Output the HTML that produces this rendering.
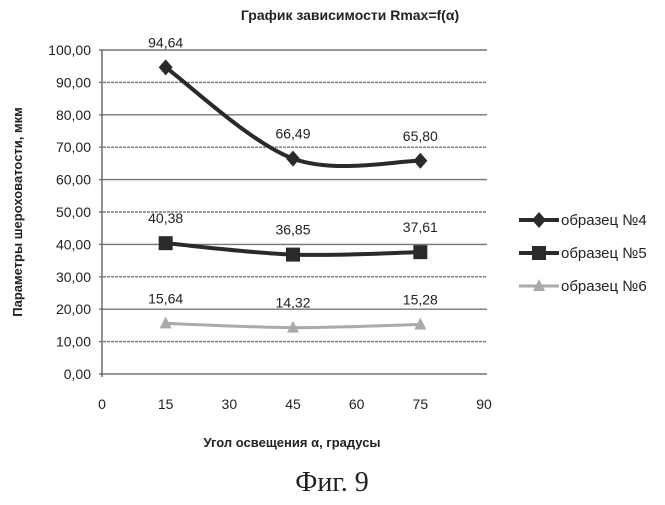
<!DOCTYPE html>
<html><head><meta charset="utf-8"><style>
body{margin:0;background:#fff;width:665px;height:500px;overflow:hidden}
text{font-family:"Liberation Sans",sans-serif;fill:#222}
</style></head><body>
<svg id="chart" width="665" height="500">
<text x="350" y="20" text-anchor="middle" font-size="14" font-weight="bold">График зависимости Rmax=f(α)</text>
<text transform="translate(22,212) rotate(-90)" text-anchor="middle" font-size="13" font-weight="bold">Параметры шероховатости, мкм</text>
<text x="292" y="447" text-anchor="middle" font-size="13" font-weight="bold">Угол освещения α, градусы</text>
<text x="332" y="491" text-anchor="middle" font-size="28" style="font-family:'Liberation Serif',serif">Фиг. 9</text>
<g id="grid"></g><g id="series"></g><g id="legend"></g>
</svg>
<script>
const xTicks=[0,15,30,45,60,75,90];
const yTicks=[0,10,20,30,40,50,60,70,80,90,100];
const xs=[15,45,75];
const s4=[94.64,66.49,65.80];
const s5=[40.38,36.85,37.61];
const s6=[15.64,14.32,15.28];
const names=["образец №4","образец №5","образец №6"];
const NS="http://www.w3.org/2000/svg";
const X=v=>102+v*(484-102)/90;
const Y=v=>374-v*3.24;
const grid=document.getElementById('grid'),ser=document.getElementById('series'),leg=document.getElementById('legend');
function mk(tag,attrs,parent){const e=document.createElementNS(NS,tag);for(const k in attrs)e.setAttribute(k,attrs[k]);parent.appendChild(e);return e;}
yTicks.forEach(t=>{
 const l=mk('line',{x1:99,x2:487,y1:Y(t),y2:Y(t),stroke:'#777','stroke-width':1.4,'stroke-dasharray':t%20==0?'none':'3,1'},grid);
 
 
 const tx=mk('text',{x:91,y:Y(t)+5,'text-anchor':'end','font-size':14},grid);tx.textContent=t.toFixed(2).replace('.',',');
 
 
});
const ax=mk('line',{x1:102,x2:102,y1:Y(100),y2:Y(0)+3,stroke:'#555','stroke-width':1.3},grid);


xTicks.forEach(t=>{
 const tx=mk('text',{x:X(t),y:Y(0)+35,'text-anchor':'middle','font-size':14},grid);tx.textContent=t;
 
 
});
function smooth(vals){let p=xs.map((x,i)=>[X(x),Y(vals[i])]);let d=`M${p[0][0]},${p[0][1]}`;
 for(let i=0;i<p.length-1;i++){const p0=p[i-1]||p[i],p1=p[i],p2=p[i+1],p3=p[i+2]||p2;
 const c1=[p1[0]+(p2[0]-p0[0])/6,p1[1]+(p2[1]-p0[1])/6],c2=[p2[0]-(p3[0]-p1[0])/6,p2[1]-(p3[1]-p1[1])/6];
 d+=` C${c1[0]},${c1[1]} ${c2[0]},${c2[1]} ${p2[0]},${p2[1]}`;}return d;}
function marker(type,x,y,parent,col){
 if(type==0)return mk('polygon',{points:`${x},${y-8} ${x+7},${y} ${x},${y+8} ${x-7},${y}`,fill:col},parent);
 if(type==1)return mk('rect',{x:x-7,y:y-7,width:14,height:14,fill:col},parent);
 return mk('polygon',{points:`${x},${y-7} ${x+6},${y+5} ${x-6},${y+5}`,fill:col},parent);}
[s4,s5,s6].forEach((vals,k)=>{
 const col=k==2?'#aaa':'#2a2a2a';
 const p=mk('path',{d:smooth(vals),fill:'none',stroke:col,'stroke-width':k==2?3:4},ser);
 
 
 vals.forEach((v,i)=>{
  const m=marker(k,X(xs[i]),Y(v),ser,col);
  
  
  const t=mk('text',{x:X(xs[i]),y:Y(v)-20,'text-anchor':'middle','font-size':14},ser);t.textContent=v.toFixed(2).replace('.',',');
  
  
 });
 const ly=220+k*33;
 const ll=mk('line',{x1:519,x2:559,y1:ly,y2:ly,stroke:col,'stroke-width':k==2?3:4},leg);
 
 
 marker(k,539,ly,leg,col);
 const lt=mk('text',{x:561,y:ly+5,'font-size':15},leg);lt.textContent=names[k];
 
 
});
</script>
</body></html>
